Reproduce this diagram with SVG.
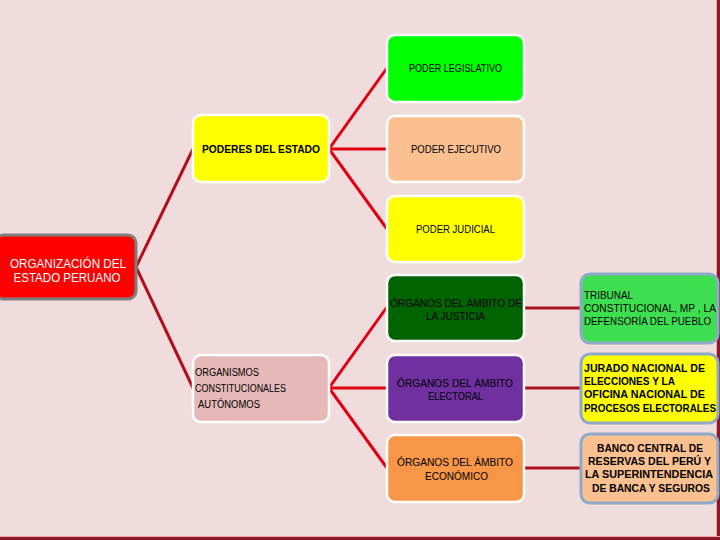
<svg xmlns="http://www.w3.org/2000/svg" width="720" height="540" viewBox="0 0 720 540">
<style>
.box{stroke:#FFFFFF;stroke-width:2.5}
.rbox{stroke:#8EAACB;stroke-width:3}
text{font-family:"Liberation Sans",Arial,sans-serif;font-size:10px;fill:#000}
.b{font-weight:bold}
.c{text-anchor:middle}
.w{fill:#FFFFFF;font-size:12.5px}
.lk1{stroke:#B0101C;stroke-width:3;fill:none}
.lk2{stroke:#E00010;stroke-width:3;fill:none}
.lk3{stroke:#A8101E;stroke-width:3;fill:none}
</style>
<rect x="0" y="0" width="720" height="540" fill="#F0DCDC"/>
<line x1="718.5" y1="0" x2="718.5" y2="540" stroke="#8A1A2A" stroke-width="3"/>
<line x1="716.5" y1="0" x2="716.5" y2="540" stroke="#F6A0A8" stroke-width="1"/>
<line x1="0" y1="538.5" x2="720" y2="538.5" stroke="#8A1A2A" stroke-width="3"/>
<line x1="0" y1="536.5" x2="720" y2="536.5" stroke="#F6A0A8" stroke-width="1"/>

<g id="connectors">
<polyline class="lk1" points="193,149 136,267 193,388"/>
<polyline class="lk2" points="387,68 329,149 387,229"/>
<line class="lk2" x1="329" y1="149" x2="387" y2="149"/>
<polyline class="lk2" points="387,307 329,388 387,468"/>
<line class="lk2" x1="329" y1="388" x2="387" y2="388"/>
<line class="lk3" x1="524" y1="308" x2="580" y2="308"/>
<line class="lk3" x1="524" y1="388" x2="580" y2="388"/>
<line class="lk3" x1="524" y1="468" x2="580" y2="468"/>
</g>

<g id="organizacion">
<rect x="-4" y="235" width="140" height="64" rx="8" fill="#FF0000" stroke="#7F7F7F" stroke-width="3"/>
<text class="w c" x="68" y="268" textLength="116" lengthAdjust="spacingAndGlyphs">ORGANIZACIÓN DEL</text>
<text class="w c" x="67" y="282" textLength="107" lengthAdjust="spacingAndGlyphs">ESTADO PERUANO</text>
</g>

<g id="poderes">
<rect class="box" x="193" y="115" width="136" height="67" rx="8" fill="#FFFF00"/>
<text class="b c" x="261" y="153" textLength="118" lengthAdjust="spacingAndGlyphs">PODERES DEL ESTADO</text>
</g>

<g id="legislativo">
<rect class="box" x="387" y="35" width="137" height="67" rx="8" fill="#00FF00"/>
<text class="c" x="455.5" y="72" textLength="93" lengthAdjust="spacingAndGlyphs">PODER LEGISLATIVO</text>
</g>

<g id="ejecutivo">
<rect class="box" x="387" y="116" width="137" height="66" rx="8" fill="#FAC090"/>
<text class="c" x="456" y="153" textLength="90" lengthAdjust="spacingAndGlyphs">PODER EJECUTIVO</text>
</g>

<g id="judicial">
<rect class="box" x="387" y="196" width="137" height="66" rx="8" fill="#FFFF00"/>
<text class="c" x="455.5" y="233" textLength="79" lengthAdjust="spacingAndGlyphs">PODER JUDICIAL</text>
</g>

<g id="organismos">
<rect class="box" x="193" y="355" width="136" height="67" rx="8" fill="#E6B9B8"/>
<text x="195" y="376" font-size="9" textLength="64" lengthAdjust="spacingAndGlyphs">ORGANISMOS</text>
<text x="195" y="392" font-size="9" textLength="91" lengthAdjust="spacingAndGlyphs">CONSTITUCIONALES</text>
<text x="198" y="408" font-size="9" textLength="62" lengthAdjust="spacingAndGlyphs">AUTÓNOMOS</text>
</g>

<g id="justicia">
<rect class="box" x="387" y="275" width="137" height="66" rx="8" fill="#006400"/>
<text class="c" x="456" y="307" textLength="132" lengthAdjust="spacingAndGlyphs">ÓRGANOS DEL ÁMBITO DE</text>
<text class="c" x="455.5" y="320" textLength="59" lengthAdjust="spacingAndGlyphs">LA JUSTICIA</text>
</g>

<g id="electoral">
<rect class="box" x="387" y="355" width="137" height="67" rx="8" fill="#7030A0"/>
<text class="c" x="455" y="387" textLength="116" lengthAdjust="spacingAndGlyphs">ÓRGANOS DEL ÁMBITO</text>
<text class="c" x="455.5" y="400" textLength="55" lengthAdjust="spacingAndGlyphs">ELECTORAL</text>
</g>

<g id="economico">
<rect class="box" x="387" y="435" width="137" height="67" rx="8" fill="#F79646"/>
<text class="c" x="455" y="466" textLength="116" lengthAdjust="spacingAndGlyphs">ÓRGANOS DEL ÁMBITO</text>
<text class="c" x="456.5" y="480" textLength="63" lengthAdjust="spacingAndGlyphs">ECONÓMICO</text>
</g>

<g id="tribunal">
<rect class="rbox" x="581" y="274" width="137" height="69" rx="9" fill="#3DDF50"/>
<text x="584" y="299" textLength="49" lengthAdjust="spacingAndGlyphs">TRIBUNAL</text>
<text x="584" y="312" textLength="132" lengthAdjust="spacingAndGlyphs">CONSTITUCIONAL, MP , LA</text>
<text x="584" y="325" textLength="127" lengthAdjust="spacingAndGlyphs">DEFENSORÍA DEL PUEBLO</text>
</g>

<g id="jurado">
<rect class="rbox" x="581" y="354" width="137" height="69" rx="9" fill="#FFFF00"/>
<text class="b" x="584" y="372" textLength="121" lengthAdjust="spacingAndGlyphs">JURADO NACIONAL DE</text>
<text class="b" x="584" y="385" textLength="91" lengthAdjust="spacingAndGlyphs">ELECCIONES Y LA</text>
<text class="b" x="584" y="398" textLength="121" lengthAdjust="spacingAndGlyphs">OFICINA NACIONAL DE</text>
<text class="b" x="584" y="412" textLength="132" lengthAdjust="spacingAndGlyphs">PROCESOS ELECTORALES</text>
</g>

<g id="banco">
<rect class="rbox" x="581" y="434" width="137" height="69" rx="9" fill="#FAC090"/>
<text class="b c" x="650" y="452" textLength="106" lengthAdjust="spacingAndGlyphs">BANCO CENTRAL DE</text>
<text class="b c" x="649.5" y="465" textLength="123" lengthAdjust="spacingAndGlyphs">RESERVAS DEL PERÚ Y</text>
<text class="b c" x="649" y="478" textLength="128" lengthAdjust="spacingAndGlyphs">LA SUPERINTENDENCIA</text>
<text class="b c" x="651" y="492" textLength="118" lengthAdjust="spacingAndGlyphs">DE BANCA Y SEGUROS</text>
</g>
</svg>
